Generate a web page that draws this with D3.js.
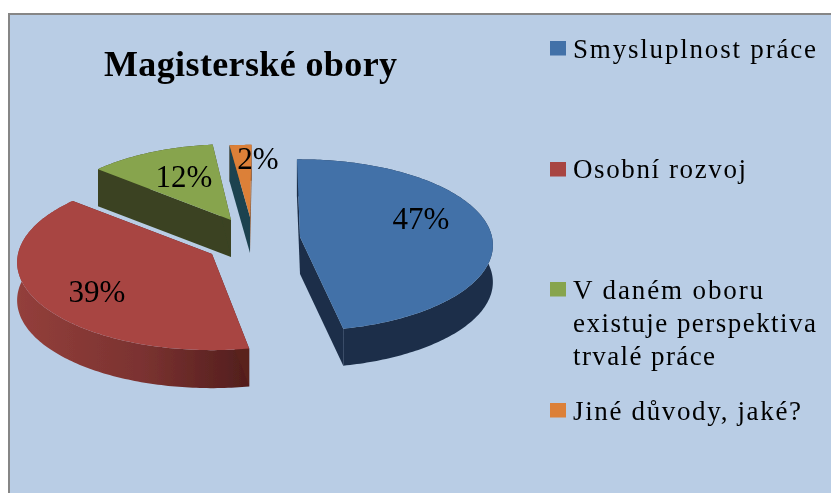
<!DOCTYPE html>
<html>
<head>
<meta charset="utf-8">
<script src="https://cdn.jsdelivr.net/npm/d3@7"></script>
<style>
html,body{margin:0;padding:0;background:#fff;overflow:hidden}
text{font-family:"Liberation Serif",serif;fill:#000}
</style>
</head>
<body>
<svg id="c" width="831" height="493"></svg>
<script>
const categories = ["Smysluplnost práce", "Osobní rozvoj", "V daném oboru existuje perspektiva trvalé práce", "Jiné důvody, jaké?"];
const values = [47, 39, 12, 2];
const valueLabels = ["47%", "39%", "12%", "2%"];
const legendLines = [["Smysluplnost práce"], ["Osobní rozvoj"], ["V daném oboru", "existuje perspektiva", "trvalé práce"], ["Jiné důvody, jaké?"]];
const titleText = "Magisterské obory";

// Layout and style
const W = 831, H = 493;
const colors = ["#4271a8", "#a84442", "#87a44e", "#dc8039"];
const wallColors = ["#1c2f49", "url(#redWall)", "#3a4320", "#8a4d1f"];
const cutColors = ["#1c2f49", "#5a201f", "#3a4320", "#1c4350"];
const apex = [[300, 237], [212, 254], [231, 220], [250, 217]];
const sliceRx = [192, 194, 186, 192];
const sliceRy = [85, 87, 83, 79];
const sliceTurn = [-1, 0.8, 1, 0.5];
const sliceDepth = [37, 38, 37, 36];
const labelPos = [[421, 228.5], [97, 301.5], [184, 186.5], [258, 168.5]];
const legendY = [[58], [178], [299, 332, 365], [420]];
const swatchY = [41, 162, 282, 403];
const legendWidths = [[243], [173], [190, 243, 142], [228]];
const persp = 0.095;
const drawOrder = [3, 2, 1, 0];

const svg = d3.select("#c");
const defs = svg.append("defs");
const g = defs.append("linearGradient").attr("id", "redWall")
  .attr("gradientUnits", "userSpaceOnUse").attr("x1", 18).attr("x2", 248).attr("y1", 0).attr("y2", 0);
g.append("stop").attr("offset", 0).attr("stop-color", "#933f3b");
g.append("stop").attr("offset", 0.55).attr("stop-color", "#7a3230");
g.append("stop").attr("offset", 1).attr("stop-color", "#521e1d");
defs.append("filter").attr("id", "soft").append("feGaussianBlur").attr("stdDeviation", 0.45);

const root = svg.append("g").attr("filter", "url(#soft)");

root.append("rect").attr("width", W).attr("height", H).attr("fill", "#fff");
root.append("rect").attr("x", 9).attr("y", 14).attr("width", W + 20).attr("height", H + 20)
  .attr("fill", "#b9cde5").attr("stroke", "#868686").attr("stroke-width", 2);

const pie = d3.pie().sort(null);
const arcs = pie(values);

const project = (i, t) => {
  const a = apex[i];
  const X = Math.sin(t), Z = -Math.cos(t), f = 1 / (1 - persp * Z);
  return [a[0] + sliceRx[i] * X * f, a[1] + sliceRy[i] * Z * f];
};
const line = d3.line();

drawOrder.forEach(i => {
  const d = arcs[i], a = apex[i];
  const turn = sliceTurn[i] * Math.PI / 180;
  const t0 = d.startAngle + turn, t1 = d.endAngle + turn;
  const down = p => [p[0], p[1] + sliceDepth[i]];
  const n = Math.max(12, Math.ceil((t1 - t0) * 60));
  const ts = d3.range(n + 1).map(k => t0 + (t1 - t0) * k / n);
  const rim = ts.map(t => project(i, t));
  const layer = root.append("g");
  // outer wall
  layer.append("path").attr("d", line(rim.concat(rim.slice().reverse().map(down))) + "Z")
    .attr("fill", wallColors[i]);
  // cut walls
  [rim[0], rim[n]].forEach((p, k) => {
    const fill = (i === 3 && k === 1) ? wallColors[3] : cutColors[i];
    layer.append("path").attr("d", line([a, p, down(p), down(a)]) + "Z").attr("fill", fill);
  });
  // top face
  layer.append("path").attr("d", line([a].concat(rim)) + "Z").attr("fill", colors[i]);
});

// data labels
arcs.forEach((d, i) => {
  root.append("text").attr("x", labelPos[i][0]).attr("y", labelPos[i][1])
    .attr("text-anchor", "middle").attr("font-size", 31).text(valueLabels[i]);
});

// title
root.append("text").attr("x", 104).attr("y", 76).attr("font-size", 36).attr("font-weight", "bold")
  .attr("textLength", 293).attr("lengthAdjust", "spacing").text(titleText);

// legend
categories.forEach((c, i) => {
  root.append("rect").attr("x", 550).attr("y", swatchY[i]).attr("width", 16).attr("height", 14.5).attr("fill", colors[i]);
  legendLines[i].forEach((s, j) => {
    root.append("text").attr("x", 573).attr("y", legendY[i][j]).attr("font-size", 27)
      .attr("textLength", legendWidths[i][j]).attr("lengthAdjust", "spacing").text(s);
  });
});
</script>
</body>
</html>
